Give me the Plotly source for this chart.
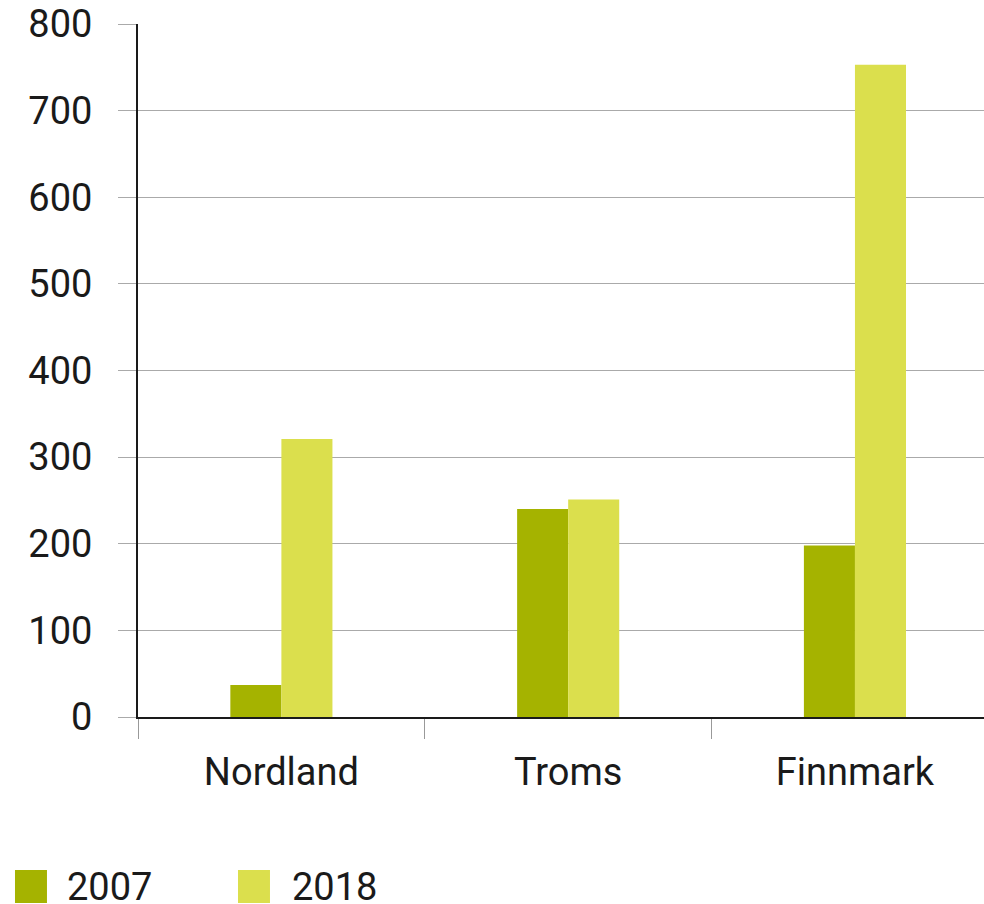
import plotly.graph_objects as go

regions = ["Nordland", "Troms", "Finnmark"]
years = ["2007", "2018"]
values_2007 = [37, 240, 198]
values_2018 = [321, 251, 753]
y_ticks = [0, 100, 200, 300, 400, 500, 600, 700, 800]

colors = ["#a5b300", "#dbdf4d"]
font = "Roboto"

fig = go.Figure()
for name, vals, col in zip(years, [values_2007, values_2018], colors):
    fig.add_trace(go.Bar(
        x=regions,
        y=vals,
        name=name,
        marker=dict(color=col, line=dict(width=0)),
        showlegend=False
    ))

fig.update_layout(
    width=984,
    height=904,
    margin=dict(l=138, r=0, t=24, b=187, autoexpand=False),
    paper_bgcolor="white",
    plot_bgcolor="white",
    barmode="group",
    bargap=0.644,
    bargroupgap=0,
    font=dict(family=font, color="#1a1a1a", size=37),
    xaxis=dict(
        automargin=False,
        range=[-0.5, 2.45],
        showline=True,
        linecolor="#1a1a1a",
        linewidth=2,
        ticks="outside",
        tickson="boundaries",
        ticklen=20,
        tickcolor="#999999",
        tickwidth=1,
        ticklabelstandoff=20,
        tickfont=dict(size=38),
        showgrid=False,
    ),
    yaxis=dict(
        automargin=False,
        range=[0, 800],
        tickvals=y_ticks,
        showline=True,
        linecolor="#1a1a1a",
        linewidth=2,
        ticks="outside",
        ticklen=18,
        tickcolor="#aaaaaa",
        tickwidth=1,
        ticklabelstandoff=18,
        tickfont=dict(size=38),
        showgrid=True,
        gridcolor="#aaaaaa",
        gridwidth=1,
        zeroline=False,
    ),
)

# legend drawn by hand (large squares like the original)
legend_pos = [(-0.1454, -0.0863), (0.1182, 0.1797)]
for (sx, tx), name, col in zip(legend_pos, years, colors):
    fig.add_shape(type="rect", xref="paper", yref="paper",
                  x0=sx, x1=sx + 0.0378, y0=-0.2684, y1=-0.2208,
                  fillcolor=col, line=dict(width=0))
    fig.add_annotation(xref="paper", yref="paper", x=tx, y=-0.2446,
                       text=name, showarrow=False, xanchor="left", yanchor="middle",
                       font=dict(size=38, family=font, color="#1a1a1a"))

fig.write_html("out.html", config={"displayModeBar": False},
               post_script="document.body.style.margin='0';")
